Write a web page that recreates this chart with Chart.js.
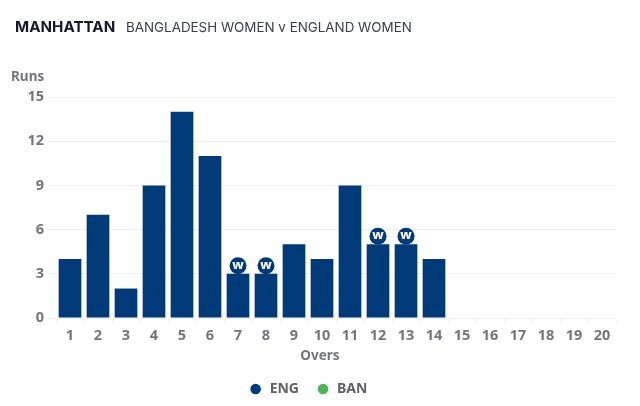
<!DOCTYPE html>
<html>
<head>
<meta charset="utf-8">
<style>
  html, body { margin: 0; padding: 0; background: #fff; }
  #wrap { position: relative; width: 640px; height: 406px; overflow: hidden; }
  #title { position: absolute; left: 15px; top: 17px; white-space: nowrap; font-family: "Inter", sans-serif; color: #3a3d4f; font-size: 13.4px; line-height: 20px; }
  #title b { font-size: 15.2px; font-weight: 700; color: #15192e; margin-right: 7px; }
  #runs { position: absolute; left: 11px; top: 67px; font: 700 13.5px "Noto Sans", sans-serif; color: #73757f; }
  #overs { position: absolute; left: 0; width: 640px; top: 346px; text-align: center; font: 700 13.5px "Noto Sans", sans-serif; color: #73757f; }
  #dash { position: absolute; left: 0; top: 0; }
</style>
</head>
<body>
<div id="wrap">
  <canvas id="dash" width="640" height="406"></canvas>
  <div id="title"><b>MANHATTAN</b> BANGLADESH WOMEN v ENGLAND WOMEN</div>
  <div id="runs">Runs</div>
  <div id="overs">Overs</div>
</div>
<script src="https://cdn.jsdelivr.net/npm/chart.js@4"></script>
<script>
const overs = ["1", "2", "3", "4", "5", "6", "7", "8", "9", "10", "11", "12", "13", "14", "15", "16", "17", "18", "19", "20"];
const engRuns = [4, 7, 2, 9, 14, 11, 3, 3, 5, 4, 9, 5, 5, 4];
const banRuns = [];
const wicketOvers = ["7", "8", "12", "13"];
const yTicks = [0, 3, 6, 9, 12, 15];

const tickColor = "#73757f";
const tickFont = { family: "Noto Sans", size: 14.5, weight: "700" };

// white "w" badges sitting on top of the bars
const wicketBadges = {
  id: "wicketBadges",
  afterDatasetsDraw(chart) {
    const { ctx, scales } = chart;
    wicketOvers.forEach((o) => {
      const i = overs.indexOf(o);
      const x = scales.x.getPixelForValue(i);
      const y = scales.y.getPixelForValue(engRuns[i]) - 8;
      ctx.save();
      ctx.beginPath();
      ctx.arc(x, y, 8.5, 0, Math.PI * 2);
      ctx.fillStyle = "#003a78";
      ctx.fill();
      ctx.fillStyle = "#fff";
      ctx.font = "800 13px 'Noto Sans'";
      ctx.textAlign = "center";
      ctx.textBaseline = "middle";
      ctx.fillText("w", x, y - 1);
      ctx.restore();
    });
  },
};

new Chart(document.getElementById("dash"), {
  type: "bar",
  data: {
    labels: overs,
    datasets: [
      { label: "ENG", data: engRuns, backgroundColor: "#003a78", barPercentage: 0.81, categoryPercentage: 1, grouped: false },
      { label: "BAN", data: banRuns, backgroundColor: "#4cb558", barPercentage: 0.81, categoryPercentage: 1, grouped: false },
    ],
  },
  options: {
    responsive: false,
    animation: false,
    layout: { padding: { top: 97, right: 24, bottom: 0 } },
    scales: {
      x: {
        offset: true,
        afterFit(scale) { scale.height = 47; },
        grid: { drawOnChartArea: false, color: "#eeeff1", tickLength: 5 },
        border: { display: false },
        ticks: { color: tickColor, font: tickFont, padding: 4, maxRotation: 0, autoSkip: false },
      },
      y: {
        min: 0,
        max: 15,
        afterFit(scale) { scale.width = 56; },
        afterBuildTicks(scale) { scale.ticks = yTicks.map((v) => ({ value: v })); },
        grid: { color: "#eeeff1", tickLength: 8 },
        border: { display: false },
        ticks: { color: tickColor, font: tickFont, padding: 4 },
      },
    },
    plugins: {
      tooltip: { enabled: false },
      legend: {
        position: "bottom",
        onClick: null,
        labels: {
          usePointStyle: true,
          pointStyle: "circle",
          boxWidth: 14,
          boxHeight: 7.5,
          padding: 17,
          color: "#5f6068",
          font: { family: "Noto Sans", size: 14, weight: "700" },
        },
      },
    },
  },
  plugins: [wicketBadges],
});
</script>
</body>
</html>
